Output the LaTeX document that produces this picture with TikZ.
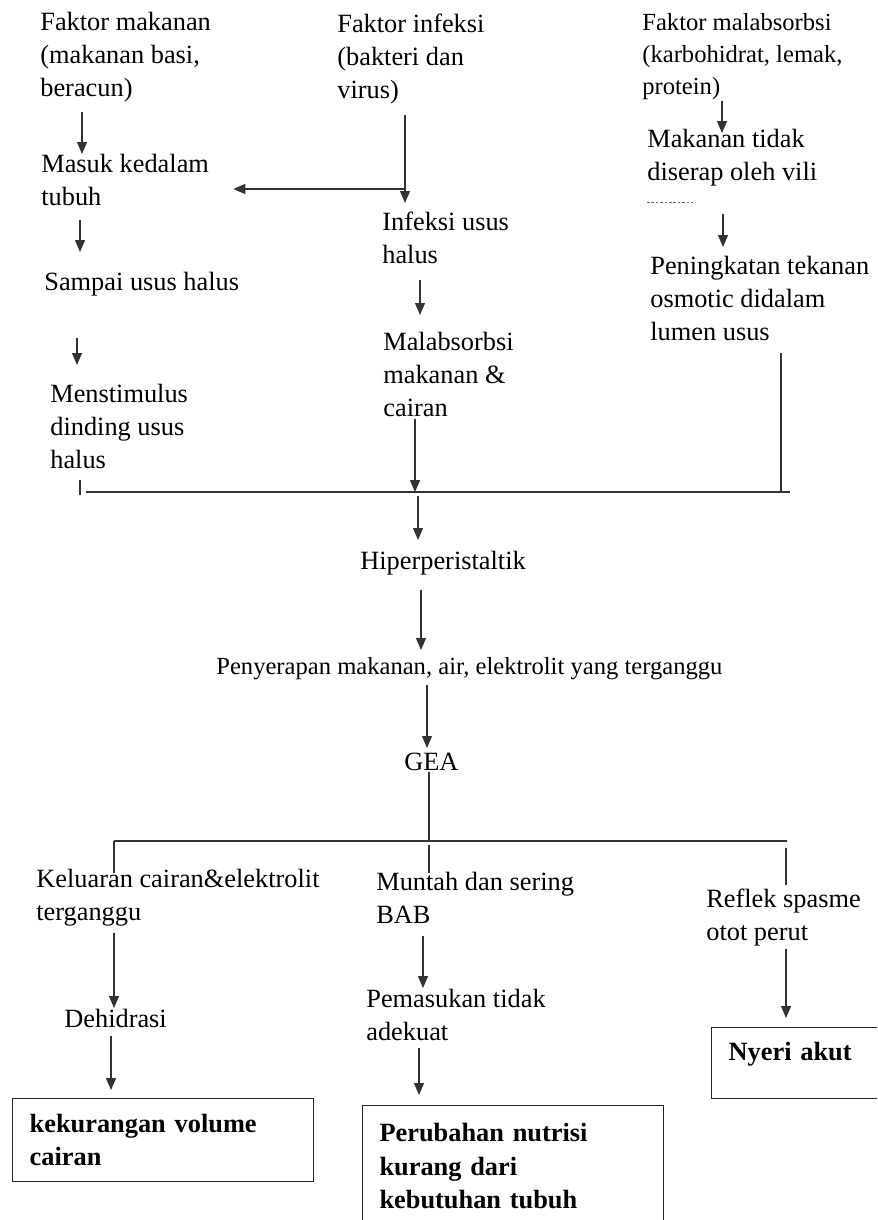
\documentclass[tikz,border=0pt]{standalone}
\usepackage{fontspec}
\setmainfont{Liberation Serif}
\usetikzlibrary{arrows.meta}
\def\pxunit{0.02cm}

\begin{document}
\begin{tikzpicture}[x=\pxunit, y=-\pxunit, >={Triangle[length=0.24cm,width=0.2cm]}]
    \tikzstyle{link}=[draw=black!80, line width=0.6pt]
    \tikzstyle{step text}=[anchor=north west, inner sep=0pt, align=left, font=\fontsize{15}{18.8}\selectfont]
    \tikzstyle{small text}=[step text, font=\fontsize{14}{18.2}\selectfont]
    \tikzstyle{result box}=[draw=black!85, line width=0.8pt, anchor=north west, inner xsep=0.34cm, inner ysep=0pt, align=left, font=\fontsize{15}{18.8}\selectfont\bfseries]

    \clip (0,0) rectangle (877,1220);

    % Draw the three causes at the top
    \node[step text] (makanan) at (40,12) {Faktor makanan\\(makanan basi,\\beracun)};
    \node[step text] (infeksi) at (337,14) {Faktor infeksi\\(bakteri dan\\virus)};
    \node[small text] (malab) at (642,13) {Faktor malabsorbsi\\(karbohidrat, lemak,\\protein)};

    % Draw the left chain
    \node[step text] (masuk) at (41,154) {Masuk kedalam\\tubuh};
    \node[step text] (sampai) at (44,272) {Sampai usus halus};
    \node[step text] (stimulus) at (50,384) {Menstimulus\\dinding usus\\halus};

    % Draw the middle chain
    \node[step text] (infusus) at (382,212) {Infeksi usus\\halus};
    \node[step text] (malcair) at (383,332) {Malabsorbsi\\makanan \&\\cairan};

    % Draw the right chain
    \node[step text] (vili) at (647,129) {Makanan tidak\\diserap oleh vili};
    \node[step text] (osmotik) at (650,256) {Peningkatan tekanan\\osmotic didalam\\lumen usus};

    % Draw the common trunk
    \node[step text] (hiper) at (360,551) {Hiperperistaltik};
    \node[small text] (serap) at (216,657) {Penyerapan makanan, air, elektrolit yang terganggu};
    \node[step text] (gea) at (404,753) {GEA};

    % Draw the three branches and the results
    \node[step text] (keluar) at (36,869) {Keluaran cairan\&elektrolit\\terganggu};
    \node[step text] (dehidrasi) at (64,1009) {Dehidrasi};
    \node[step text] (muntah) at (376,872) {Muntah dan sering\\BAB};
    \node[step text] (pemasukan) at (366,989) {Pemasukan tidak\\adekuat};
    \node[step text] (refleks) at (706,889) {Reflek spasme\\otot perut};

    \node[result box, minimum width=6.02cm, minimum height=1.66cm, text width=5.34cm] (cairan) at (12,1098) {kekurangan volume\\cairan};
    \node[result box, line width=0.6pt, minimum width=6.02cm, minimum height=2.42cm, text width=5.34cm] (nutrisi) at (362,1105) {Perubahan nutrisi\\kurang dari\\kebutuhan tubuh};
    \node[result box, minimum width=5cm, minimum height=1.42cm, text width=4.32cm, text depth=0.46cm] (nyeri) at (711,1027) {Nyeri akut};

    \coordinate (busW) at (86,492);
    \coordinate (busE) at (790,492);
    \coordinate (splitW) at (114,841);
    \coordinate (splitE) at (787,841);
    \coordinate (fork) at (405,189);
    \coordinate (tick) at (80,495);

    % Connect the left chain
    \draw[link,->,shorten <=0.18cm] (makanan.south -| 82,0) -- (masuk.north -| 82,0);
    \draw[link,->,shorten <=0.28cm,shorten >=0.4cm] (masuk.south -| 80,0) -- (sampai.north -| 80,0);
    \draw[link,->,shorten <=0.82cm,shorten >=0.38cm] (sampai.south -| 77,0) -- (stimulus.north -| 77,0);
    \draw[link,shorten <=0.22cm] (stimulus.south -| 80,0) -- (tick);

    % Connect the middle chain
    \draw[link,->,shorten <=0.2cm,shorten >=0.18cm] (infeksi.south -| 405,0) -- (infusus.north -| 405,0);
    \draw[link,->,shorten >=0.48cm] (fork) -- (fork -| masuk.east);
    \draw[link,->,shorten <=0.3cm,shorten >=0.34cm] (infusus.south -| 420,0) -- (malcair.north -| 420,0);
    \draw[link,->,shorten <=0.04cm] (malcair.south -| 415,0) -- (busW -| 415,0);

    % Connect the right chain
    \draw[link,->,shorten <=0.02cm,shorten >=-0.08cm] (malab.south -| 722,0) -- (vili.north -| 722,0);
    \draw[black!60, line width=0.4pt, dash pattern=on 1.5pt off 1pt] ([yshift=-0.32cm]vili.south west) -- ++(46,0);
    \draw[link,->,shorten <=0.54cm,shorten >=0.18cm] (vili.south -| 723,0) -- (osmotik.north -| 723,0);
    \draw[link,shorten <=0.24cm] (osmotik.south -| 781,0) -- (busE -| 781,0);

    % Collect everything into the trunk
    \draw[link] (busW) -- (busE);
    \draw[link,->,shorten <=0.08cm,shorten >=0.22cm] (busW -| 418,0) -- (hiper.north -| 418,0);
    \draw[link,->,shorten <=0.28cm,shorten >=0.14cm] (hiper.south -| 421,0) -- (serap.north -| 421,0);
    \draw[link,->,shorten <=0.1cm,shorten >=0.1cm] (serap.south -| 427,0) -- (gea.north -| 427,0);
    \draw[link,shorten <=0.02cm] (gea.south -| 429,0) -- (splitW -| 429,0);

    % Split into the three branches
    \draw[link] (splitW) -- (splitE);
    \draw[link,shorten >=-0.08cm] (splitW) -- (keluar.north -| splitW);
    \draw[link,shorten <=0.08cm,shorten >=-0.02cm] (splitW -| 429,0) -- (muntah.north -| 429,0);
    \draw[link,shorten <=0.14cm,shorten >=0.08cm] (splitE -| 786,0) -- (refleks.north -| 786,0);

    \draw[link,->,shorten <=0.12cm,shorten >=0.02cm] (keluar.south -| 114,0) -- (dehidrasi.north -| 114,0);
    \draw[link,->,shorten <=0.16cm,shorten >=0.16cm] (dehidrasi.south -| 111,0) -- (cairan.north -| 111,0);
    \draw[link,->,shorten <=0.24cm,shorten >=0.02cm] (muntah.south -| 423,0) -- (pemasukan.north -| 423,0);
    \draw[link,->,shorten <=0.14cm,shorten >=0.2cm] (pemasukan.south -| 419,0) -- (nutrisi.north -| 419,0);
    \draw[link,->,shorten <=0.04cm,shorten >=0.18cm] (refleks.south -| 786,0) -- (nyeri.north -| 786,0);
\end{tikzpicture}
\end{document}
